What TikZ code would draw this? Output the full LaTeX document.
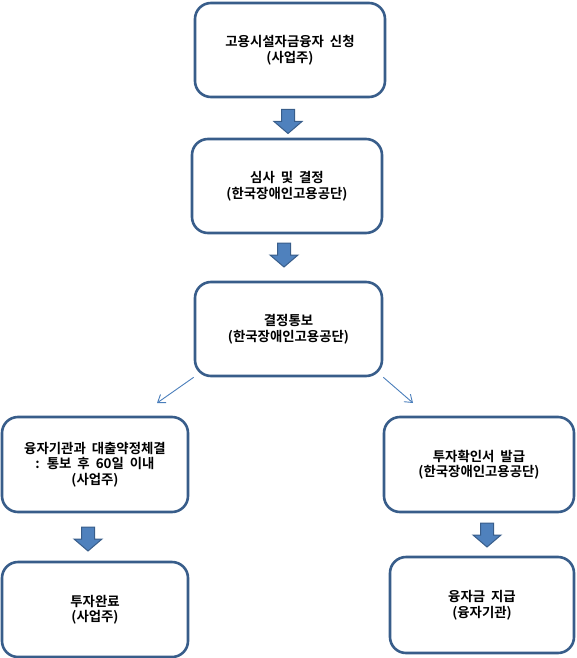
\documentclass[tikz,border=0pt]{standalone}
\usepackage{fontspec}
\setmainfont{Noto Sans CJK KR}[BoldFont={Noto Sans CJK KR Bold}]
\usetikzlibrary{arrows.meta}
\definecolor{boxline}{HTML}{385D8A}
\definecolor{arrfill}{HTML}{4F81BD}
\definecolor{thinline}{HTML}{4A7EBB}
\newcommand{\boxfont}{\fontsize{13.4pt}{15.5pt}\selectfont\bfseries\fontdimen2\font=6pt\relax}
\tikzset{
  stepbox/.style={draw=boxline, line width=2.6pt, fill=white, rounded corners=16pt,
    inner sep=0pt, align=center, font=\boxfont, text=black},
  blockarr/.style={draw=boxline, line width=1pt, fill=arrfill},
  thinarr/.style={draw=thinline, line width=0.9pt, -{Straight Barb[length=7pt,width=10pt]}}
}
\newcommand{\blockarrowat}[1]{%
  \draw[blockarr, shift={(#1)}] (-6.5,-12) -- (6.5,-12) -- (6.5,0) -- (14,0) -- (0,12) -- (-14,0) -- (-6.5,0) -- cycle;}
\begin{document}
\begin{tikzpicture}[x=1pt,y=-1pt]
\useasboundingbox (0,0) rectangle (577,658);
\node[stepbox, minimum width=190pt, minimum height=94pt] (b1) at (290,50) {고용시설자금융자 신청\\(사업주)};
\node[stepbox, minimum width=190pt, minimum height=94pt] (b2) at (287,186) {심사 및 결정\\(한국장애인고용공단)};
\node[stepbox, minimum width=187pt, minimum height=94pt] (b3) at (288.5,329) {결정통보\\(한국장애인고용공단)};
\node[stepbox, minimum width=186pt, minimum height=95pt] (b4) at (95,464.5) {융자기관과 대출약정체결\\: 통보 후 60일 이내\\(사업주)};
\node[stepbox, minimum width=186pt, minimum height=95pt] (b5) at (95,609.5) {투자완료\\(사업주)};
\node[stepbox, minimum width=190pt, minimum height=95pt] (b6) at (479,464.5) {투자확인서 발급\\(한국장애인고용공단)};
\node[stepbox, minimum width=184pt, minimum height=96pt] (b7) at (482,605) {융자금 지급\\(융자기관)};
\coordinate (a1) at (288,121.5);
\coordinate (a2) at (284,255);
\coordinate (a3) at (88,539);
\coordinate (a4) at (487,535);
\blockarrowat{a1}
\blockarrowat{a2}
\blockarrowat{a3}
\blockarrowat{a4}
\coordinate (t1) at (157,403);
\coordinate (t2) at (413,403);
\draw[thinarr] (b3.south west) -- (t1);
\draw[thinarr] (b3.south east) -- (t2);
\end{tikzpicture}
\end{document}
